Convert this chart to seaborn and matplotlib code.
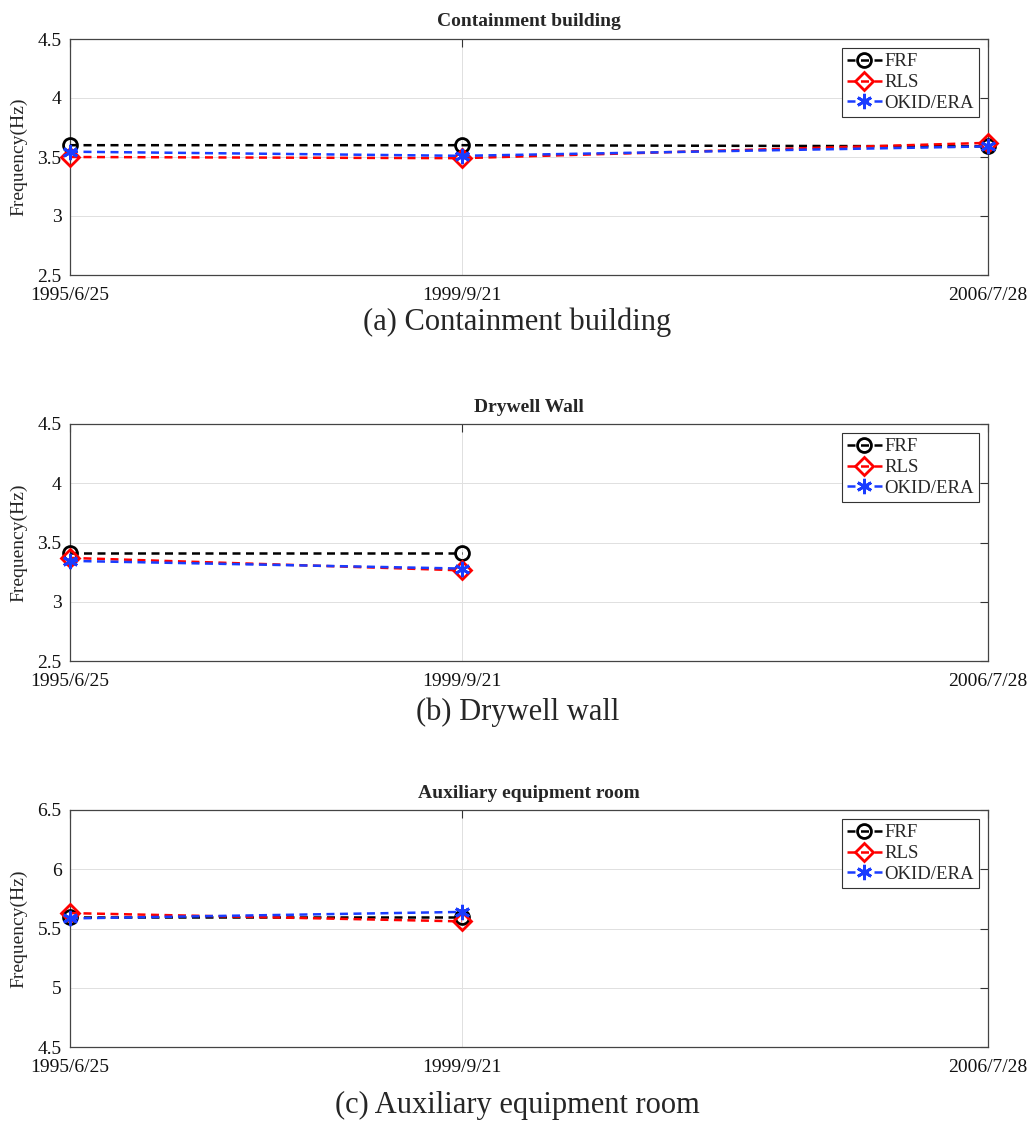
import matplotlib
matplotlib.use("Agg")
import matplotlib.pyplot as plt
import numpy as np
import pandas as pd
import seaborn as sns

# test dates and their relative positions along the time axis (as drawn)
test_dates = ["1995/6/25", "1999/9/21", "2006/7/28"]
date_pos = [0.0, 0.427, 1.0]

methods = ["FRF", "RLS", "OKID/ERA"]

panel_titles = ["Containment building", "Drywell Wall", "Auxiliary equipment room"]
captions = ["(a) Containment building", "(b) Drywell wall", "(c) Auxiliary equipment room"]
y_ranges = [(2.5, 4.5), (2.5, 4.5), (4.5, 6.5)]

# identified frequencies (Hz)
containment_frf = [3.60, 3.60, 3.59]
containment_rls = [3.50, 3.49, 3.62]
containment_okid = [3.545, 3.51, 3.59]

drywell_frf = [3.41, 3.41, np.nan]
drywell_rls = [3.37, 3.265, np.nan]
drywell_okid = [3.345, 3.28, np.nan]

auxiliary_frf = [5.60, 5.60, np.nan]
auxiliary_rls = [5.63, 5.56, np.nan]
auxiliary_okid = [5.585, 5.64, np.nan]

panel_data = [
    [containment_frf, containment_rls, containment_okid],
    [drywell_frf, drywell_rls, drywell_okid],
    [auxiliary_frf, auxiliary_rls, auxiliary_okid],
]

colors = {"FRF": "black", "RLS": "#ff0000", "OKID/ERA": "#1a3cff"}
markers = {"FRF": "o", "RLS": "D", "OKID/ERA": (6, 2, 0)}
msizes = {"FRF": 10, "RLS": 9, "OKID/ERA": 11}

sns.set_style("white")
plt.rcParams["font.family"] = ["Liberation Serif", "DejaVu Serif"]

fig = plt.figure(figsize=(10.35, 11.38), dpi=100)
W, H = 1035, 1138

axes_px = [(39, 275), (424, 661), (810, 1047)]
caption_y = [322, 712, 1105]
left_px, right_px = 70, 988

for i in range(3):
    top, bot = axes_px[i]
    ax = fig.add_axes([left_px / W, 1 - bot / H, (right_px - left_px) / W, (bot - top) / H])

    for m, vals in zip(methods, panel_data[i]):
        df = pd.DataFrame({"pos": date_pos, "freq": vals}).dropna()
        sns.lineplot(
            data=df, x="pos", y="freq", ax=ax,
            color=colors[m], linestyle=(0, (3.2, 2.2)), linewidth=1.8,
            marker=markers[m], markersize=msizes[m],
            markerfacecolor="none", markeredgecolor=colors[m], markeredgewidth=2,
            label=m, clip_on=False, zorder=3,
        )

    ax.set_xlim(0, 1)
    ax.set_ylim(*y_ranges[i])
    lo, hi = y_ranges[i]
    ax.set_yticks(np.arange(lo, hi + 0.01, 0.5))
    ax.set_yticklabels([f"{v:g}" for v in np.arange(lo, hi + 0.01, 0.5)])
    ax.set_xticks(date_pos)
    ax.set_xticklabels(test_dates)
    ax.tick_params(direction="in", length=6, width=0.8, labelsize=14,
                   top=True, right=True, colors="#333333", labelcolor="#111111")
    ax.tick_params(axis="x", pad=9)
    ax.tick_params(axis="y", pad=6)
    ax.grid(True, color="#e0e0e0", linewidth=0.7)
    ax.set_axisbelow(True)
    for sp in ax.spines.values():
        sp.set_color("#444444")
        sp.set_linewidth(0.9)

    ax.set_xlabel("")
    ax.set_ylabel("Frequency(Hz)", fontsize=14, labelpad=7)
    ax.set_title(panel_titles[i], fontsize=14, fontweight="bold", pad=9)

    leg = ax.legend(loc="upper right", fontsize=13.5, frameon=True, fancybox=False,
                    edgecolor="#333333", framealpha=1, handlelength=1.9,
                    handletextpad=0.12, labelspacing=0.2, borderpad=0.25,
                    borderaxespad=0.5)
    leg.get_frame().set_linewidth(0.8)

    fig.text(0.5, 1 - caption_y[i] / H, captions[i], ha="center", va="center", fontsize=22)

fig.savefig("out.png", dpi=100)
